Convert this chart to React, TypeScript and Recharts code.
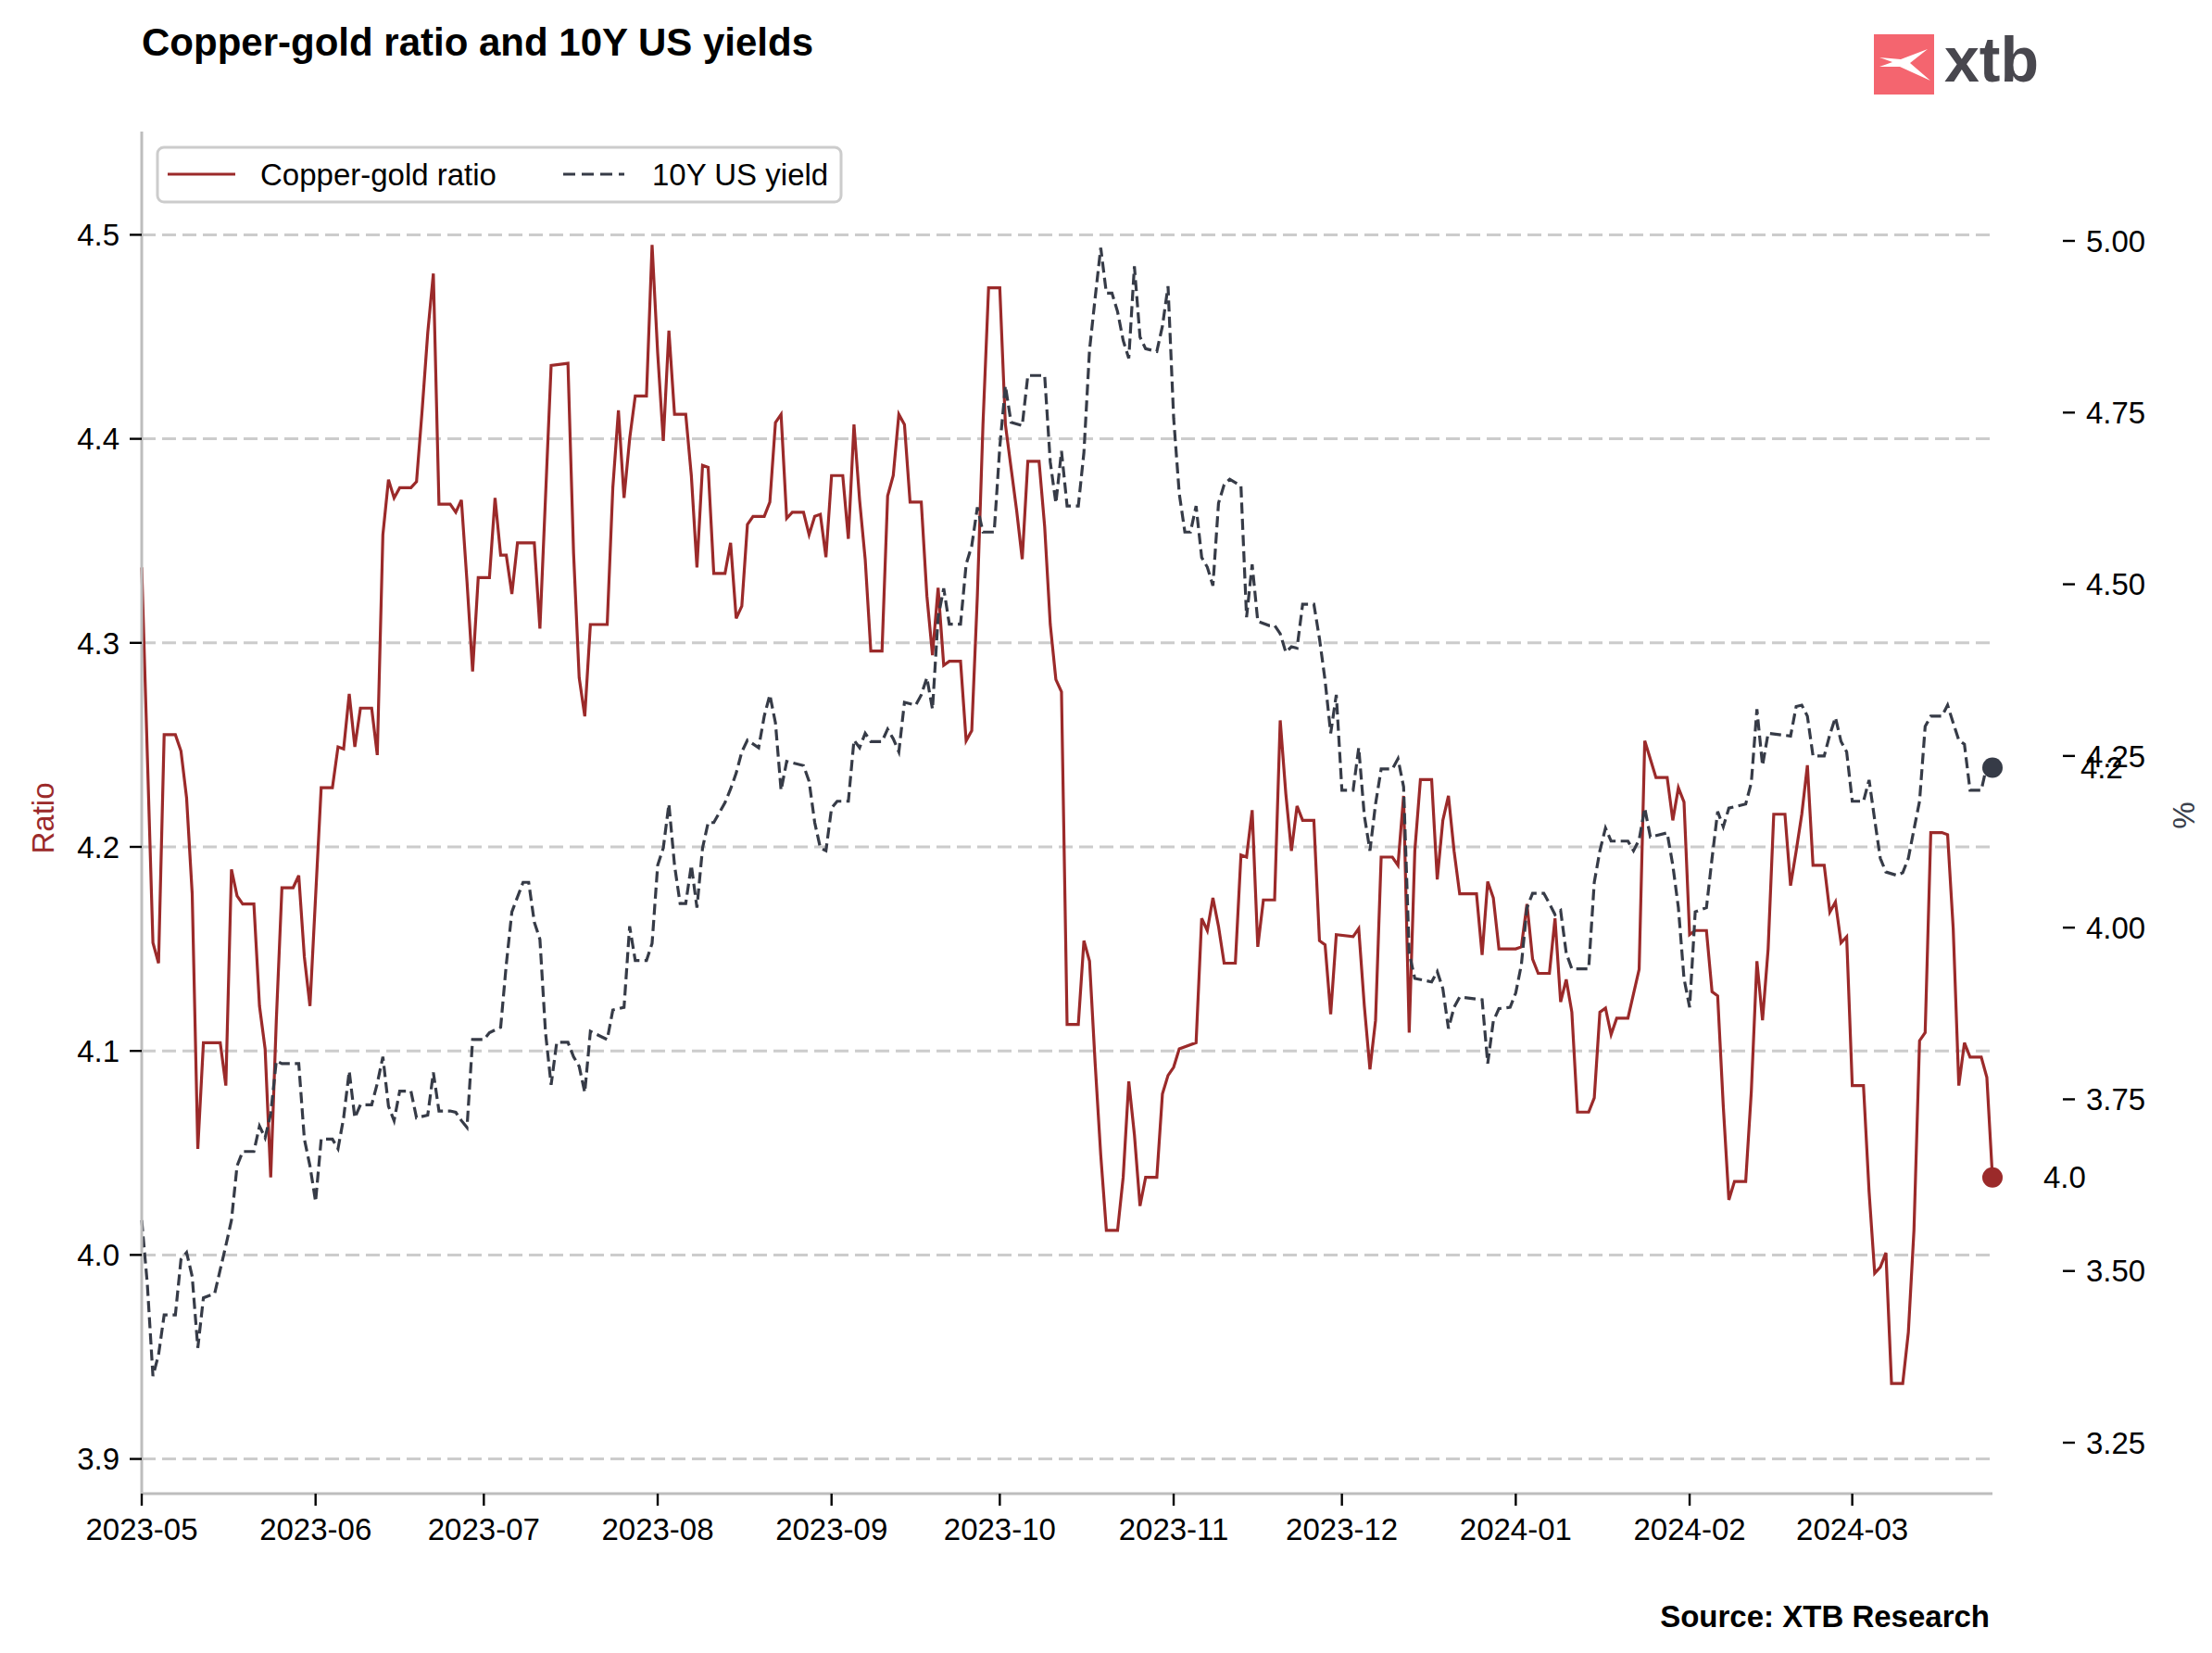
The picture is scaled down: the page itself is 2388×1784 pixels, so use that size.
import React from "react";
import { LineChart, Line, XAxis, YAxis, CartesianGrid } from "recharts";

// Copper-gold ratio (left axis)
const copperGold: [string, number][] = [
  ["2023-05-01", 4.337], ["2023-05-03", 4.153], ["2023-05-04", 4.143], ["2023-05-05", 4.255], ["2023-05-07", 4.255],
  ["2023-05-08", 4.247], ["2023-05-09", 4.224], ["2023-05-10", 4.177], ["2023-05-11", 4.052], ["2023-05-12", 4.104],
  ["2023-05-15", 4.104], ["2023-05-16", 4.083], ["2023-05-17", 4.189], ["2023-05-18", 4.176], ["2023-05-19", 4.172],
  ["2023-05-21", 4.172], ["2023-05-22", 4.122], ["2023-05-23", 4.101], ["2023-05-24", 4.038], ["2023-05-25", 4.115],
  ["2023-05-26", 4.18], ["2023-05-28", 4.18], ["2023-05-29", 4.186], ["2023-05-30", 4.146], ["2023-05-31", 4.122],
  ["2023-06-02", 4.229], ["2023-06-04", 4.229], ["2023-06-05", 4.249], ["2023-06-06", 4.248], ["2023-06-07", 4.275],
  ["2023-06-08", 4.249], ["2023-06-09", 4.268], ["2023-06-11", 4.268], ["2023-06-12", 4.245], ["2023-06-13", 4.353],
  ["2023-06-14", 4.38], ["2023-06-15", 4.371], ["2023-06-16", 4.376], ["2023-06-18", 4.376], ["2023-06-19", 4.379],
  ["2023-06-20", 4.414], ["2023-06-21", 4.452], ["2023-06-22", 4.481], ["2023-06-23", 4.368], ["2023-06-25", 4.368],
  ["2023-06-26", 4.364], ["2023-06-27", 4.37], ["2023-06-28", 4.33], ["2023-06-29", 4.286], ["2023-06-30", 4.332],
  ["2023-07-02", 4.332], ["2023-07-03", 4.371], ["2023-07-04", 4.343], ["2023-07-05", 4.343], ["2023-07-06", 4.324],
  ["2023-07-07", 4.349], ["2023-07-10", 4.349], ["2023-07-11", 4.307], ["2023-07-13", 4.436], ["2023-07-16", 4.437],
  ["2023-07-17", 4.344], ["2023-07-18", 4.283], ["2023-07-19", 4.264], ["2023-07-20", 4.309], ["2023-07-23", 4.309],
  ["2023-07-24", 4.376], ["2023-07-25", 4.414], ["2023-07-26", 4.371], ["2023-07-27", 4.4], ["2023-07-28", 4.421],
  ["2023-07-30", 4.421], ["2023-07-31", 4.495], ["2023-08-01", 4.442], ["2023-08-02", 4.399], ["2023-08-03", 4.453],
  ["2023-08-04", 4.412], ["2023-08-06", 4.412], ["2023-08-07", 4.382], ["2023-08-08", 4.337], ["2023-08-09", 4.387],
  ["2023-08-10", 4.386], ["2023-08-11", 4.334], ["2023-08-13", 4.334], ["2023-08-14", 4.349], ["2023-08-15", 4.312],
  ["2023-08-16", 4.318], ["2023-08-17", 4.358], ["2023-08-18", 4.362], ["2023-08-20", 4.362], ["2023-08-21", 4.369],
  ["2023-08-22", 4.408], ["2023-08-23", 4.412], ["2023-08-24", 4.361], ["2023-08-25", 4.364], ["2023-08-27", 4.364],
  ["2023-08-28", 4.353], ["2023-08-29", 4.362], ["2023-08-30", 4.363], ["2023-08-31", 4.342], ["2023-09-01", 4.382],
  ["2023-09-03", 4.382], ["2023-09-04", 4.351], ["2023-09-05", 4.407], ["2023-09-06", 4.37], ["2023-09-07", 4.341],
  ["2023-09-08", 4.296], ["2023-09-10", 4.296], ["2023-09-11", 4.372], ["2023-09-12", 4.382], ["2023-09-13", 4.412],
  ["2023-09-14", 4.407], ["2023-09-15", 4.369], ["2023-09-17", 4.369], ["2023-09-18", 4.323], ["2023-09-19", 4.294],
  ["2023-09-20", 4.327], ["2023-09-21", 4.289], ["2023-09-22", 4.291], ["2023-09-24", 4.291], ["2023-09-25", 4.252],
  ["2023-09-26", 4.257], ["2023-09-27", 4.323], ["2023-09-28", 4.407], ["2023-09-29", 4.474], ["2023-10-01", 4.474],
  ["2023-10-02", 4.407], ["2023-10-03", 4.386], ["2023-10-04", 4.365], ["2023-10-05", 4.341], ["2023-10-06", 4.389],
  ["2023-10-08", 4.389], ["2023-10-09", 4.357], ["2023-10-10", 4.309], ["2023-10-11", 4.282], ["2023-10-12", 4.276],
  ["2023-10-13", 4.113], ["2023-10-15", 4.113], ["2023-10-16", 4.154], ["2023-10-17", 4.144], ["2023-10-18", 4.094],
  ["2023-10-19", 4.049], ["2023-10-20", 4.012], ["2023-10-22", 4.012], ["2023-10-23", 4.038], ["2023-10-24", 4.085],
  ["2023-10-25", 4.059], ["2023-10-26", 4.024], ["2023-10-27", 4.038], ["2023-10-29", 4.038], ["2023-10-30", 4.079],
  ["2023-10-31", 4.088], ["2023-11-01", 4.092], ["2023-11-02", 4.101], ["2023-11-05", 4.104], ["2023-11-06", 4.165],
  ["2023-11-07", 4.159], ["2023-11-08", 4.175], ["2023-11-09", 4.161], ["2023-11-10", 4.143], ["2023-11-12", 4.143],
  ["2023-11-13", 4.196], ["2023-11-14", 4.195], ["2023-11-15", 4.218], ["2023-11-16", 4.151], ["2023-11-17", 4.174],
  ["2023-11-19", 4.174], ["2023-11-20", 4.262], ["2023-11-21", 4.226], ["2023-11-22", 4.198], ["2023-11-23", 4.22],
  ["2023-11-24", 4.213], ["2023-11-26", 4.213], ["2023-11-27", 4.154], ["2023-11-28", 4.152], ["2023-11-29", 4.118],
  ["2023-11-30", 4.157], ["2023-12-03", 4.156], ["2023-12-04", 4.16], ["2023-12-05", 4.122], ["2023-12-06", 4.091],
  ["2023-12-07", 4.115], ["2023-12-08", 4.195], ["2023-12-10", 4.195], ["2023-12-11", 4.191], ["2023-12-12", 4.225],
  ["2023-12-13", 4.109], ["2023-12-14", 4.198], ["2023-12-15", 4.233], ["2023-12-17", 4.233], ["2023-12-18", 4.184],
  ["2023-12-19", 4.213], ["2023-12-20", 4.225], ["2023-12-21", 4.198], ["2023-12-22", 4.177], ["2023-12-25", 4.177],
  ["2023-12-26", 4.147], ["2023-12-27", 4.183], ["2023-12-28", 4.175], ["2023-12-29", 4.15], ["2024-01-01", 4.15],
  ["2024-01-02", 4.151], ["2024-01-03", 4.172], ["2024-01-04", 4.145], ["2024-01-05", 4.138], ["2024-01-07", 4.138],
  ["2024-01-08", 4.165], ["2024-01-09", 4.124], ["2024-01-10", 4.135], ["2024-01-11", 4.119], ["2024-01-12", 4.07],
  ["2024-01-14", 4.07], ["2024-01-15", 4.077], ["2024-01-16", 4.119], ["2024-01-17", 4.121], ["2024-01-18", 4.108],
  ["2024-01-19", 4.116], ["2024-01-21", 4.116], ["2024-01-23", 4.14], ["2024-01-24", 4.252], ["2024-01-25", 4.243],
  ["2024-01-26", 4.234], ["2024-01-28", 4.234], ["2024-01-29", 4.213], ["2024-01-30", 4.229], ["2024-01-31", 4.222],
  ["2024-02-01", 4.157], ["2024-02-02", 4.159], ["2024-02-04", 4.159], ["2024-02-05", 4.129], ["2024-02-06", 4.127],
  ["2024-02-07", 4.073], ["2024-02-08", 4.027], ["2024-02-09", 4.036], ["2024-02-11", 4.036], ["2024-02-12", 4.08],
  ["2024-02-13", 4.144], ["2024-02-14", 4.115], ["2024-02-15", 4.15], ["2024-02-16", 4.216], ["2024-02-18", 4.216],
  ["2024-02-19", 4.181], ["2024-02-20", 4.198], ["2024-02-21", 4.216], ["2024-02-22", 4.24], ["2024-02-23", 4.191],
  ["2024-02-25", 4.191], ["2024-02-26", 4.168], ["2024-02-27", 4.173], ["2024-02-28", 4.153], ["2024-02-29", 4.156],
  ["2024-03-01", 4.083], ["2024-03-03", 4.083], ["2024-03-04", 4.031], ["2024-03-05", 3.991], ["2024-03-06", 3.994],
  ["2024-03-07", 4.001], ["2024-03-08", 3.937], ["2024-03-10", 3.937], ["2024-03-11", 3.962], ["2024-03-12", 4.012],
  ["2024-03-13", 4.105], ["2024-03-14", 4.109], ["2024-03-15", 4.207], ["2024-03-17", 4.207], ["2024-03-18", 4.206],
  ["2024-03-19", 4.16], ["2024-03-20", 4.083], ["2024-03-21", 4.104], ["2024-03-22", 4.097], ["2024-03-24", 4.097],
  ["2024-03-25", 4.087], ["2024-03-26", 4.038],
];

// 10Y US yield, % (right axis)
const usYield10y: [string, number][] = [
  ["2023-05-01", 3.574], ["2023-05-02", 3.481], ["2023-05-03", 3.347], ["2023-05-04", 3.378], ["2023-05-05", 3.436],
  ["2023-05-07", 3.436], ["2023-05-08", 3.517], ["2023-05-09", 3.527], ["2023-05-10", 3.492], ["2023-05-11", 3.388],
  ["2023-05-12", 3.461], ["2023-05-14", 3.467], ["2023-05-15", 3.502], ["2023-05-16", 3.537], ["2023-05-17", 3.574],
  ["2023-05-18", 3.653], ["2023-05-19", 3.674], ["2023-05-21", 3.674], ["2023-05-22", 3.711], ["2023-05-23", 3.694],
  ["2023-05-24", 3.729], ["2023-05-25", 3.806], ["2023-05-26", 3.802], ["2023-05-29", 3.802], ["2023-05-30", 3.692],
  ["2023-05-31", 3.653], ["2023-06-01", 3.601], ["2023-06-02", 3.692], ["2023-06-04", 3.692], ["2023-06-05", 3.678],
  ["2023-06-06", 3.723], ["2023-06-07", 3.791], ["2023-06-08", 3.723], ["2023-06-09", 3.742], ["2023-06-11", 3.742],
  ["2023-06-12", 3.773], ["2023-06-13", 3.812], ["2023-06-14", 3.74], ["2023-06-15", 3.719], ["2023-06-16", 3.762],
  ["2023-06-18", 3.762], ["2023-06-19", 3.723], ["2023-06-21", 3.727], ["2023-06-22", 3.789], ["2023-06-23", 3.733],
  ["2023-06-25", 3.733], ["2023-06-26", 3.731], ["2023-06-27", 3.719], ["2023-06-28", 3.709], ["2023-06-29", 3.837],
  ["2023-07-01", 3.837], ["2023-07-02", 3.847], ["2023-07-04", 3.855], ["2023-07-05", 3.946], ["2023-07-06", 4.023],
  ["2023-07-08", 4.066], ["2023-07-09", 4.066], ["2023-07-10", 4.008], ["2023-07-11", 3.983], ["2023-07-12", 3.847],
  ["2023-07-13", 3.771], ["2023-07-14", 3.833], ["2023-07-16", 3.833], ["2023-07-17", 3.812], ["2023-07-18", 3.798],
  ["2023-07-19", 3.76], ["2023-07-20", 3.849], ["2023-07-22", 3.841], ["2023-07-23", 3.837], ["2023-07-24", 3.88],
  ["2023-07-26", 3.884], ["2023-07-27", 4.002], ["2023-07-28", 3.952], ["2023-07-30", 3.952], ["2023-07-31", 3.977],
  ["2023-08-01", 4.091], ["2023-08-02", 4.116], ["2023-08-03", 4.18], ["2023-08-04", 4.091], ["2023-08-05", 4.035],
  ["2023-08-06", 4.035], ["2023-08-07", 4.091], ["2023-08-08", 4.029], ["2023-08-09", 4.116], ["2023-08-10", 4.153],
  ["2023-08-11", 4.153], ["2023-08-13", 4.182], ["2023-08-14", 4.202], ["2023-08-15", 4.225], ["2023-08-16", 4.256],
  ["2023-08-17", 4.273], ["2023-08-19", 4.262], ["2023-08-20", 4.308], ["2023-08-21", 4.339], ["2023-08-22", 4.298],
  ["2023-08-23", 4.2], ["2023-08-24", 4.242], ["2023-08-27", 4.236], ["2023-08-28", 4.213], ["2023-08-29", 4.153],
  ["2023-08-30", 4.116], ["2023-08-31", 4.112], ["2023-09-01", 4.174], ["2023-09-02", 4.184], ["2023-09-04", 4.184],
  ["2023-09-05", 4.273], ["2023-09-06", 4.262], ["2023-09-07", 4.283], ["2023-09-08", 4.271], ["2023-09-10", 4.271],
  ["2023-09-11", 4.289], ["2023-09-12", 4.275], ["2023-09-13", 4.256], ["2023-09-14", 4.328], ["2023-09-16", 4.324],
  ["2023-09-17", 4.339], ["2023-09-18", 4.364], ["2023-09-19", 4.318], ["2023-09-20", 4.452], ["2023-09-21", 4.494],
  ["2023-09-22", 4.442], ["2023-09-24", 4.442], ["2023-09-25", 4.529], ["2023-09-26", 4.556], ["2023-09-27", 4.612],
  ["2023-09-28", 4.576], ["2023-09-30", 4.576], ["2023-10-01", 4.7], ["2023-10-02", 4.789], ["2023-10-03", 4.736],
  ["2023-10-05", 4.731], ["2023-10-06", 4.804], ["2023-10-09", 4.804], ["2023-10-10", 4.678], ["2023-10-11", 4.618],
  ["2023-10-12", 4.694], ["2023-10-13", 4.614], ["2023-10-15", 4.614], ["2023-10-16", 4.692], ["2023-10-17", 4.841],
  ["2023-10-18", 4.917], ["2023-10-19", 4.99], ["2023-10-20", 4.924], ["2023-10-21", 4.924], ["2023-10-22", 4.897],
  ["2023-10-23", 4.855], ["2023-10-24", 4.829], ["2023-10-25", 4.963], ["2023-10-26", 4.86], ["2023-10-27", 4.843],
  ["2023-10-29", 4.839], ["2023-10-30", 4.876], ["2023-10-31", 4.934], ["2023-11-01", 4.742], ["2023-11-02", 4.632],
  ["2023-11-03", 4.576], ["2023-11-04", 4.576], ["2023-11-05", 4.614], ["2023-11-06", 4.539], ["2023-11-07", 4.525],
  ["2023-11-08", 4.498], ["2023-11-09", 4.618], ["2023-11-10", 4.645], ["2023-11-11", 4.653], ["2023-11-13", 4.643],
  ["2023-11-14", 4.452], ["2023-11-15", 4.529], ["2023-11-16", 4.446], ["2023-11-18", 4.44], ["2023-11-19", 4.44],
  ["2023-11-20", 4.428], ["2023-11-21", 4.401], ["2023-11-22", 4.409], ["2023-11-23", 4.407], ["2023-11-24", 4.471],
  ["2023-11-26", 4.471], ["2023-11-27", 4.421], ["2023-11-28", 4.36], ["2023-11-29", 4.283], ["2023-11-30", 4.339],
  ["2023-12-01", 4.2], ["2023-12-03", 4.2], ["2023-12-04", 4.262], ["2023-12-05", 4.163], ["2023-12-06", 4.112],
  ["2023-12-07", 4.18], ["2023-12-08", 4.231], ["2023-12-10", 4.231], ["2023-12-11", 4.246], ["2023-12-12", 4.205],
  ["2023-12-13", 3.963], ["2023-12-14", 3.926], ["2023-12-17", 3.921], ["2023-12-18", 3.936], ["2023-12-19", 3.911],
  ["2023-12-20", 3.853], ["2023-12-21", 3.884], ["2023-12-22", 3.899], ["2023-12-26", 3.895], ["2023-12-27", 3.802],
  ["2023-12-28", 3.864], ["2023-12-29", 3.882], ["2023-12-31", 3.884], ["2024-01-01", 3.905], ["2024-01-02", 3.946],
  ["2024-01-03", 4.029], ["2024-01-04", 4.05], ["2024-01-06", 4.05], ["2024-01-07", 4.035], ["2024-01-08", 4.019],
  ["2024-01-09", 4.025], ["2024-01-10", 3.963], ["2024-01-11", 3.94], ["2024-01-14", 3.94], ["2024-01-15", 4.066],
  ["2024-01-16", 4.112], ["2024-01-17", 4.145], ["2024-01-18", 4.126], ["2024-01-21", 4.126], ["2024-01-22", 4.112],
  ["2024-01-23", 4.128], ["2024-01-24", 4.174], ["2024-01-25", 4.132], ["2024-01-28", 4.138], ["2024-01-29", 4.091],
  ["2024-01-30", 4.029], ["2024-01-31", 3.926], ["2024-02-01", 3.884], ["2024-02-02", 4.023], ["2024-02-04", 4.029],
  ["2024-02-05", 4.101], ["2024-02-06", 4.169], ["2024-02-07", 4.147], ["2024-02-08", 4.174], ["2024-02-11", 4.18],
  ["2024-02-12", 4.211], ["2024-02-13", 4.318], ["2024-02-14", 4.236], ["2024-02-15", 4.283], ["2024-02-19", 4.279],
  ["2024-02-20", 4.322], ["2024-02-21", 4.324], ["2024-02-22", 4.308], ["2024-02-23", 4.25], ["2024-02-25", 4.25],
  ["2024-02-26", 4.281], ["2024-02-27", 4.306], ["2024-02-28", 4.271], ["2024-02-29", 4.256], ["2024-03-01", 4.184],
  ["2024-03-03", 4.184], ["2024-03-04", 4.215], ["2024-03-05", 4.157], ["2024-03-06", 4.101], ["2024-03-07", 4.081],
  ["2024-03-09", 4.076], ["2024-03-10", 4.08], ["2024-03-11", 4.101], ["2024-03-12", 4.143], ["2024-03-13", 4.184],
  ["2024-03-14", 4.293], ["2024-03-15", 4.308], ["2024-03-17", 4.308], ["2024-03-18", 4.324], ["2024-03-19", 4.298],
  ["2024-03-20", 4.273], ["2024-03-21", 4.267], ["2024-03-22", 4.2], ["2024-03-24", 4.2], ["2024-03-25", 4.236],
  ["2024-03-26", 4.233],
];

const monthTicks = [
  "2023-05-01", "2023-06-01", "2023-07-01", "2023-08-01", "2023-09-01", "2023-10-01",
  "2023-11-01", "2023-12-01", "2024-01-01", "2024-02-01", "2024-03-01",
];
const ratioTicks = [3.9, 4.0, 4.1, 4.2, 4.3, 4.4, 4.5];
const yieldTicks = [3.25, 3.5, 3.75, 4.0, 4.25, 4.5, 4.75, 5.0];

const RED = "#9b2a2a";
const DARK = "#363b47";
const FONT = "'Liberation Sans', Arial, Helvetica, sans-serif";

const toTime = (d: string) => Date.parse(`${d}T00:00:00Z`);

type Row = { t: number; ratio: number | null; yld: number | null };
const rows = new Map<number, Row>();
copperGold.forEach(([d, v]) => {
  const t = toTime(d);
  const r = rows.get(t) ?? { t, ratio: null, yld: null };
  r.ratio = v;
  rows.set(t, r);
});
usYield10y.forEach(([d, v]) => {
  const t = toTime(d);
  const r = rows.get(t) ?? { t, ratio: null, yld: null };
  r.yld = v;
  rows.set(t, r);
});
const chartData = [...rows.values()].sort((a, b) => a.t - b.t);
const lastIndex = chartData.length - 1;

// marker + rounded value at the last point only
const endDot = (key: "ratio" | "yld", color: string, dx: number) => (props: any) => {
  const { cx, cy, index, payload } = props;
  if (index !== lastIndex || cx == null || cy == null) return <g key={`${key}-${index}`} />;
  return (
    <g key={`${key}-${index}`}>
      <circle cx={cx} cy={cy} r={11} fill={color} />
      <text x={cx + dx} y={cy} dy="0.355em" fontSize={33} fill="#000" fontFamily={FONT}>
        {Number(payload[key]).toFixed(1)}
      </text>
    </g>
  );
};

const RightTick = (props: any) => {
  const { x, y, payload } = props;
  return (
    <g>
      <line x1={x + 76} x2={x + 89} y1={y} y2={y} stroke="#000" strokeWidth={2.4} />
      <text x={x + 101} y={y} dy="0.355em" fontSize={33} fill="#000" fontFamily={FONT}>
        {Number(payload.value).toFixed(2)}
      </text>
    </g>
  );
};

export default function App() {
  return (
    <div style={{ position: "absolute", left: 0, top: 0, width: 2388, height: 1784, background: "#fff", fontFamily: FONT }}>
      <LineChart width={2388} height={1784} data={chartData} margin={{ top: 142, right: 0, bottom: 0, left: 0 }}>
        <CartesianGrid
          yAxisId="left"
          vertical={false}
          horizontalValues={ratioTicks}
          stroke="#cccccc"
          strokeWidth={3}
          strokeDasharray="15 7"
        />
        <XAxis
          dataKey="t"
          type="number"
          domain={[toTime("2023-05-01"), toTime("2024-03-26")]}
          ticks={monthTicks.map(toTime)}
          interval={0}
          tickFormatter={(t: number) => new Date(t).toISOString().slice(0, 7)}
          height={172}
          tickSize={13}
          tickMargin={14}
          axisLine={{ stroke: "#bdbdbd", strokeWidth: 3 }}
          tickLine={{ stroke: "#000", strokeWidth: 2.4 }}
          tick={{ fontSize: 33, fill: "#000", fontFamily: FONT }}
        />
        <YAxis
          yAxisId="left"
          orientation="left"
          width={153}
          domain={[3.883, 4.5506]}
          ticks={ratioTicks}
          interval={0}
          tickFormatter={(v: number) => v.toFixed(1)}
          tickSize={13}
          tickMargin={11}
          axisLine={{ stroke: "#bdbdbd", strokeWidth: 3 }}
          tickLine={{ stroke: "#000", strokeWidth: 2.4 }}
          tick={{ fontSize: 33, fill: "#000", fontFamily: FONT }}
        />
        <YAxis
          yAxisId="right"
          orientation="right"
          width={237}
          domain={[3.1758, 5.1592]}
          ticks={yieldTicks}
          interval={0}
          tickSize={0}
          tickMargin={0}
          axisLine={false}
          tickLine={false}
          tick={RightTick}
        />
        <Line
          yAxisId="left"
          dataKey="ratio"
          type="linear"
          stroke={RED}
          strokeWidth={3.2}
          connectNulls
          dot={endDot("ratio", RED, 55)}
          activeDot={false}
          isAnimationActive={false}
        />
        <Line
          yAxisId="right"
          dataKey="yld"
          type="linear"
          stroke={DARK}
          strokeWidth={3.2}
          strokeDasharray="12 5.5"
          connectNulls
          dot={endDot("yld", DARK, 95)}
          activeDot={false}
          isAnimationActive={false}
        />
      </LineChart>

      <svg width={2388} height={1784} style={{ position: "absolute", left: 0, top: 0, pointerEvents: "none" }}>
        <text x={153} y={60} fontSize={42} fontWeight="bold" fill="#000" fontFamily={FONT}>
          Copper-gold ratio and 10Y US yields
        </text>

        {/* xtb logo */}
        <rect x={2023} y={37} width={65} height={65} fill="#f4656f" />
        <polygon
          points="2029,62 2052,64 2081,53 2062,68 2084,87 2051,72 2029,72 2043,67"
          fill="#fff"
        />
        <text x={2099} y={88} fontSize={68} fontWeight="bold" fill="#48474e" fontFamily={FONT}>
          xtb
        </text>

        {/* legend */}
        <rect x={170} y={159} width={738} height={59} rx={7} fill="#fff" fillOpacity={0.85} stroke="#cccccc" strokeWidth={3} />
        <line x1={181} x2={254} y1={188} y2={188} stroke={RED} strokeWidth={3.2} />
        <text x={281} y={188} dy="0.355em" fontSize={33} fill="#000" fontFamily={FONT}>
          Copper-gold ratio
        </text>
        <line x1={608} x2={674} y1={188} y2={188} stroke={DARK} strokeWidth={3.2} strokeDasharray="13 7" />
        <text x={704} y={188} dy="0.355em" fontSize={33} fill="#000" fontFamily={FONT}>
          10Y US yield
        </text>

        <text x={46} y={883} transform="rotate(-90 46 883)" textAnchor="middle" dy="0.355em" fontSize={33} fill={RED} fontFamily={FONT}>
          Ratio
        </text>
        <text x={2357} y={880} transform="rotate(-90 2357 880)" textAnchor="middle" dy="0.355em" fontSize={33} fill="#3a3f4b" fontFamily={FONT}>
          %
        </text>

        <text x={2148} y={1756} textAnchor="end" fontSize={33} fontWeight="bold" fill="#000" fontFamily={FONT}>
          Source: XTB Research
        </text>
      </svg>
    </div>
  );
}
